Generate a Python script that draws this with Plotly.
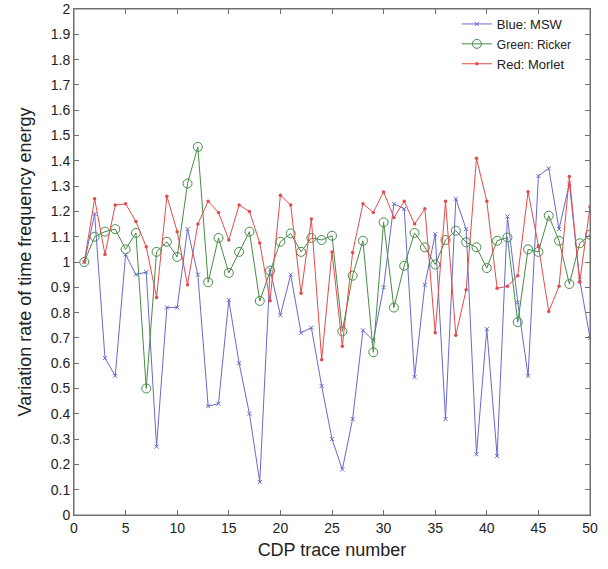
import plotly.graph_objects as go

cdp = list(range(1, 51))
msw = [1.00, 1.19, 0.62, 0.55, 1.03, 0.95, 0.96, 0.27, 0.82, 0.82,
       1.13, 0.95, 0.43, 0.44, 0.85, 0.60, 0.40, 0.13, 0.97, 0.79,
       0.95, 0.72, 0.74, 0.51, 0.30, 0.18, 0.38, 0.73, 0.69, 0.90,
       1.23, 1.21, 0.545, 0.91, 1.11, 0.38, 1.25, 1.13, 0.24, 0.735,
       0.233, 1.18, 0.84, 0.55, 1.34, 1.37, 1.13, 1.31, 0.93, 0.70]
ricker = [1.00, 1.10, 1.12, 1.13, 1.05, 1.115, 0.50, 1.04, 1.08, 1.02,
          1.31, 1.455, 0.92, 1.095, 0.957, 1.04, 1.12, 0.846, 0.966, 1.08,
          1.113, 1.04, 1.095, 1.087, 1.104, 0.726, 0.946, 1.084, 0.643, 1.157,
          0.82, 0.985, 1.115, 1.058, 0.99, 1.087, 1.124, 1.078, 1.058, 0.976,
          1.084, 1.097, 0.762, 1.05, 1.04, 1.183, 1.084, 0.913, 1.074, 1.108]
morlet = [1.00, 1.25, 1.03, 1.225, 1.23, 1.16, 1.06, 0.86, 1.26, 1.12,
          0.91, 1.15, 1.24, 1.196, 1.087, 1.225, 1.20, 1.075, 0.847, 1.264,
          1.225, 0.876, 1.17, 0.614, 1.04, 0.667, 1.038, 1.23, 1.196, 1.277,
          1.176, 1.24, 1.15, 1.21, 0.72, 1.24, 0.71, 0.89, 1.41, 1.24,
          0.896, 0.904, 0.946, 1.278, 1.064, 0.804, 0.904, 1.338, 0.92, 1.217]

x_ticks = list(range(0, 51, 5))
y_ticks = [round(i * 0.1, 1) for i in range(21)]
y_tick_labels = [f"{v:g}" for v in y_ticks]

blue = "rgb(105,105,205)"
green = "rgb(70,140,70)"
red = "rgb(228,75,75)"
frame = "#707070"

fig = go.Figure()
fig.add_trace(go.Scatter(
    x=cdp, y=msw, mode="lines+markers", name="Blue: MSW",
    line=dict(color=blue, width=1),
    marker=dict(symbol="x-thin", size=4, line=dict(color=blue, width=1), color=blue),
))
fig.add_trace(go.Scatter(
    x=cdp, y=ricker, mode="lines+markers",
    name='<span style="font-size:12px">Green: Ricker</span>',
    line=dict(color=green, width=1),
    marker=dict(symbol="circle-open", size=9, line=dict(color=green, width=1), color=green),
))
fig.add_trace(go.Scatter(
    x=cdp, y=morlet, mode="lines+markers", name="Red: Morlet",
    line=dict(color=red, width=1),
    marker=dict(symbol="circle", size=3.5, color=red),
))

axis_common = dict(
    showline=True, linecolor=frame, linewidth=1, mirror="allticks",
    ticks="inside", ticklen=5, tickcolor=frame, tickwidth=1,
    showgrid=False, zeroline=False, ticklabeloverflow="allow",
    tickfont=dict(family="Liberation Sans, Arial, sans-serif", size=14, color="#222"),
)

fig.update_layout(
    width=608, height=569,
    margin=dict(l=74, r=18, t=9, b=54, autoexpand=False),
    paper_bgcolor="white", plot_bgcolor="white",
    font=dict(family="Liberation Sans, Arial, sans-serif", color="#222"),
    xaxis=dict(range=[0, 50], tickvals=x_ticks,
               title=dict(text="CDP trace number", font=dict(size=18), standoff=8),
               **axis_common),
    yaxis=dict(range=[0, 2], tickvals=y_ticks, ticktext=y_tick_labels,
               title=dict(text="Variation rate of time frequency energy", font=dict(size=18), standoff=14),
               **axis_common),
    legend=dict(x=0.742, y=1.0, xanchor="left", yanchor="top",
                bgcolor="rgba(255,255,255,0)", borderwidth=0,
                font=dict(size=13, color="#222"), itemwidth=30,
                tracegroupgap=0),
    showlegend=True,
    shapes=[dict(type="rect", xref="paper", yref="paper", x0=0, x1=1, y0=0, y1=1,
                 line=dict(color=frame, width=1), layer="above")],
)

fig.write_html("out.html", config={"displayModeBar": False},
               post_script="document.body.style.margin='0';")
